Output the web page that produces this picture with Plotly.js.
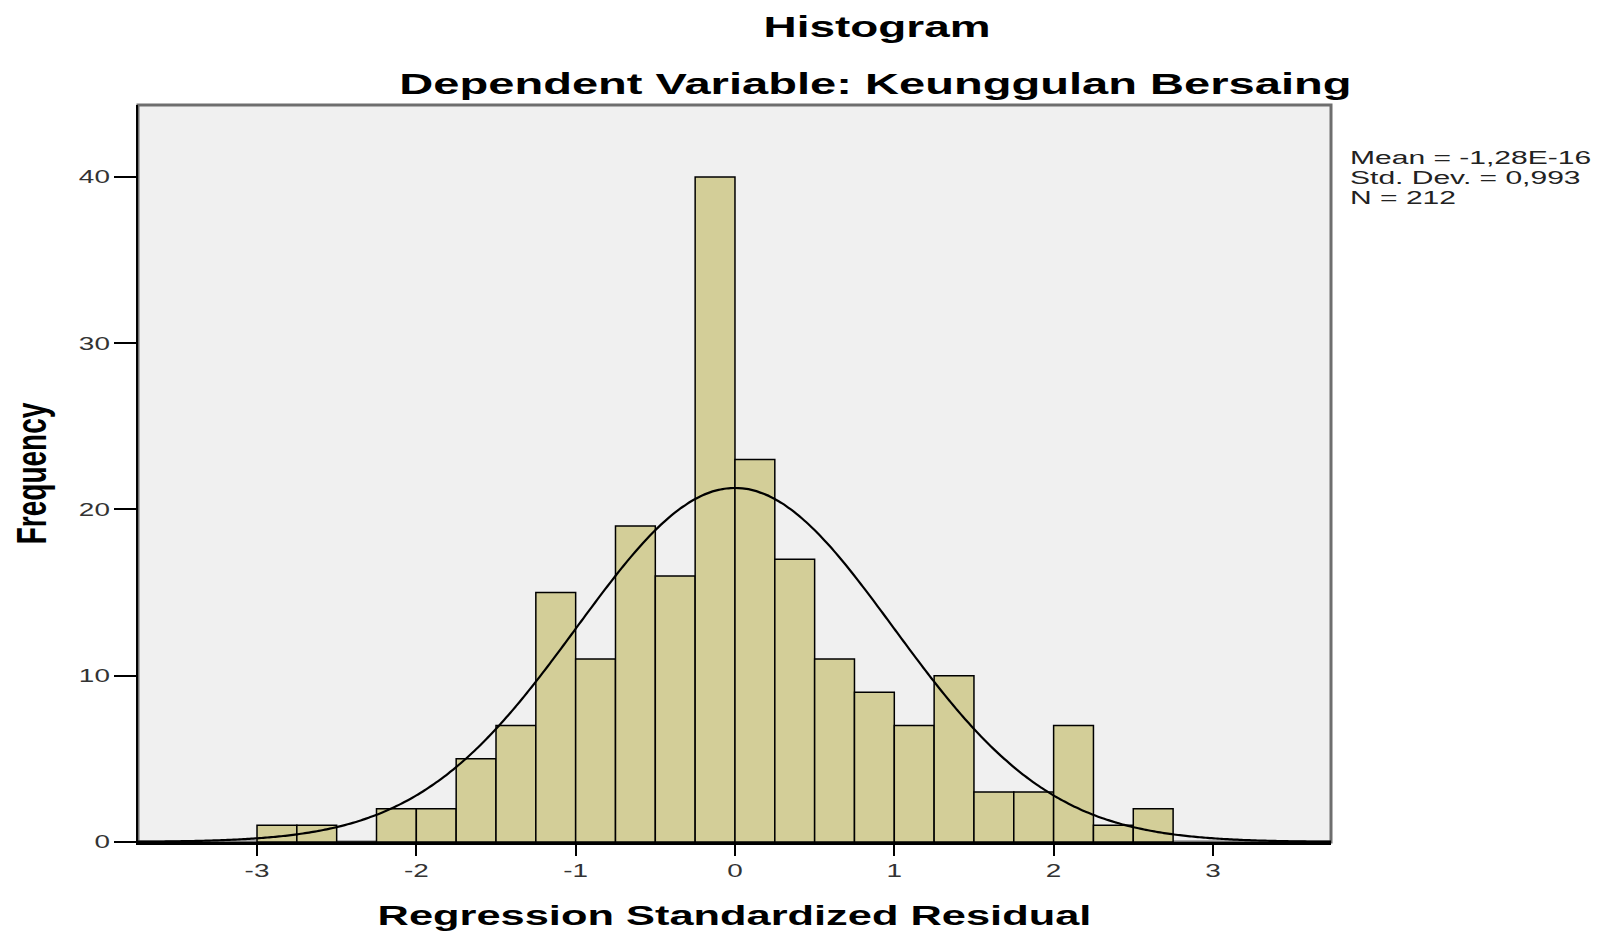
<!DOCTYPE html>
<html>
<head>
<meta charset="utf-8">
<script src="https://cdn.plot.ly/plotly-3.0.1.min.js"></script>
<style>
  html, body { margin: 0; padding: 0; background: #ffffff; }
  #chart { width: 1617px; height: 935px; }
</style>
</head>
<body>
<div id="chart"></div>
<script>
// ---- Data ----
const binLeftEdges = [-3, -2.75, -2.5, -2.25, -2, -1.75, -1.5, -1.25, -1, -0.75, -0.5, -0.25,
                      0, 0.25, 0.5, 0.75, 1, 1.25, 1.5, 1.75, 2, 2.25, 2.5];
const frequencies  = [1, 1, 0, 2, 2, 5, 7, 15, 11, 19, 16, 40,
                      23, 17, 11, 9, 7, 10, 3, 3, 7, 1, 2];
const binWidth = 0.25;
const meanValue = -1.28e-16;
const stdDev = 0.993;
const nCases = 212;
const statLines = ["Mean = -1,28E-16", "Std. Dev. = 0,993", "N = 212"];
const xTickVals = [-3, -2, -1, 0, 1, 2, 3];
const yTickVals = [0, 10, 20, 30, 40];
const chartTitle = "Histogram";
const chartSubtitle = "Dependent Variable: Keunggulan Bersaing";
const xTitle = "Regression Standardized Residual";
const yTitle = "Frequency";

// ---- Fitted normal curve (SPSS overlay from mean, SD, N) ----
const xRange = [-3.747, 3.741];
const curveX = [], curveY = [];
for (let i = 0; i <= 300; i++) {
  const x = xRange[0] + (xRange[1] - xRange[0]) * i / 300;
  const z = (x - meanValue) / stdDev;
  curveX.push(x);
  curveY.push(nCases * binWidth * Math.exp(-0.5 * z * z) / (stdDev * Math.sqrt(2 * Math.PI)));
}

const FONT = "Liberation Sans, Arial, sans-serif";

const traces = [
  {
    type: "bar",
    x: binLeftEdges,
    y: frequencies,
    width: binWidth,
    offset: 0,
    marker: { color: "#d3ce98", line: { color: "#000000", width: 1.5 } },
    hoverinfo: "skip"
  },
  {
    type: "scatter",
    mode: "lines",
    x: curveX,
    y: curveY,
    line: { color: "#000000", width: 2.2, shape: "spline" },
    hoverinfo: "skip"
  }
];

const statY = [0.9294, 0.9019, 0.8747];
const annotations = [
  {
    text: chartSubtitle, xref: "paper", yref: "paper", x: 0.6186, y: 1.0290,
    xanchor: "center", yanchor: "middle", showarrow: false,
    font: { family: FONT, size: 30, color: "#000000", weight: "bold" }
  }
].concat(statLines.map((t, i) => ({
  text: t, xref: "paper", yref: "paper", x: 1.0143, y: statY[i],
  xanchor: "left", yanchor: "middle", showarrow: false,
  font: { family: FONT, size: 19, color: "#222222" }
})));

const layout = {
  width: 1617, height: 935,
  margin: { l: 138, r: 286, t: 105, b: 93, pad: 0 },
  paper_bgcolor: "#ffffff",
  plot_bgcolor: "#f0f0f0",
  showlegend: false,
  bargap: 0,
  hovermode: false,
  title: {
    text: chartTitle, x: 877 / 1617, xanchor: "center", xref: "container",
    y: 0.9717, yanchor: "middle", yref: "container",
    font: { family: FONT, size: 30, color: "#000000", weight: "bold" }
  },
  xaxis: {
    range: xRange, tickvals: xTickVals, ticktext: xTickVals.map(String),
    showgrid: false, zeroline: false,
    showline: true, linecolor: "#000000", linewidth: 2.5,
    ticks: "outside", ticklen: 11, tickwidth: 2, tickcolor: "#000000",
    tickfont: { family: FONT, size: 18, color: "#333333" },
    title: { text: xTitle, standoff: 26, font: { family: FONT, size: 28, color: "#000000", weight: "bold" } },
    automargin: false, fixedrange: true
  },
  yaxis: {
    range: [0, 44.33], tickvals: yTickVals, ticktext: yTickVals.map(String),
    showgrid: false, zeroline: false,
    showline: true, linecolor: "#000000", linewidth: 2.5,
    ticks: "outside", ticklen: 22, tickwidth: 2, tickcolor: "#000000",
    tickfont: { family: FONT, size: 18, color: "#333333" },
    title: { text: yTitle, standoff: 40, font: { family: FONT, size: 28, color: "#000000", weight: "bold" } },
    automargin: false, fixedrange: true
  },
  shapes: [
    { type: "rect", xref: "paper", yref: "paper", x0: 0, x1: 1, y0: 0, y1: 1,
      line: { color: "#6e6e6e", width: 3 }, fillcolor: "rgba(0,0,0,0)", layer: "below" }
  ],
  annotations: annotations
};

// The reference image is horizontally stretched; reproduce that on the text.
function stretch(el, anchor, sx) {
  const r = el.getBoundingClientRect();
  const ctm = el.parentNode.getScreenCTM();
  let X = r.left + r.width / 2;
  if (anchor === "left") X = r.left;
  if (anchor === "right") X = r.right;
  const px = (X - ctm.e) / ctm.a;
  const prev = el.getAttribute("transform") || "";
  el.setAttribute("transform", `translate(${px},0) scale(${sx},1) translate(${-px},0) ${prev}`);
}

Plotly.newPlot("chart", traces, layout, { staticPlot: true, displayModeBar: false }).then(gd => {
  gd.querySelectorAll(".gtitle").forEach(e => stretch(e, "center", 1.53));
  gd.querySelectorAll(".xtitle").forEach(e => stretch(e, "center", 1.55));
  gd.querySelectorAll(".ytitle").forEach(e => stretch(e, "center", 1.53));
  gd.querySelectorAll(".xtick text").forEach(e => stretch(e, "center", 1.55));
  gd.querySelectorAll(".ytick text").forEach(e => stretch(e, "right", 1.55));
  const ann = gd.querySelectorAll(".annotation-text");
  ann.forEach((e, i) => stretch(e, i === 0 ? "center" : "left", i === 0 ? 1.57 : 1.58));
});
</script>
</body>
</html>
